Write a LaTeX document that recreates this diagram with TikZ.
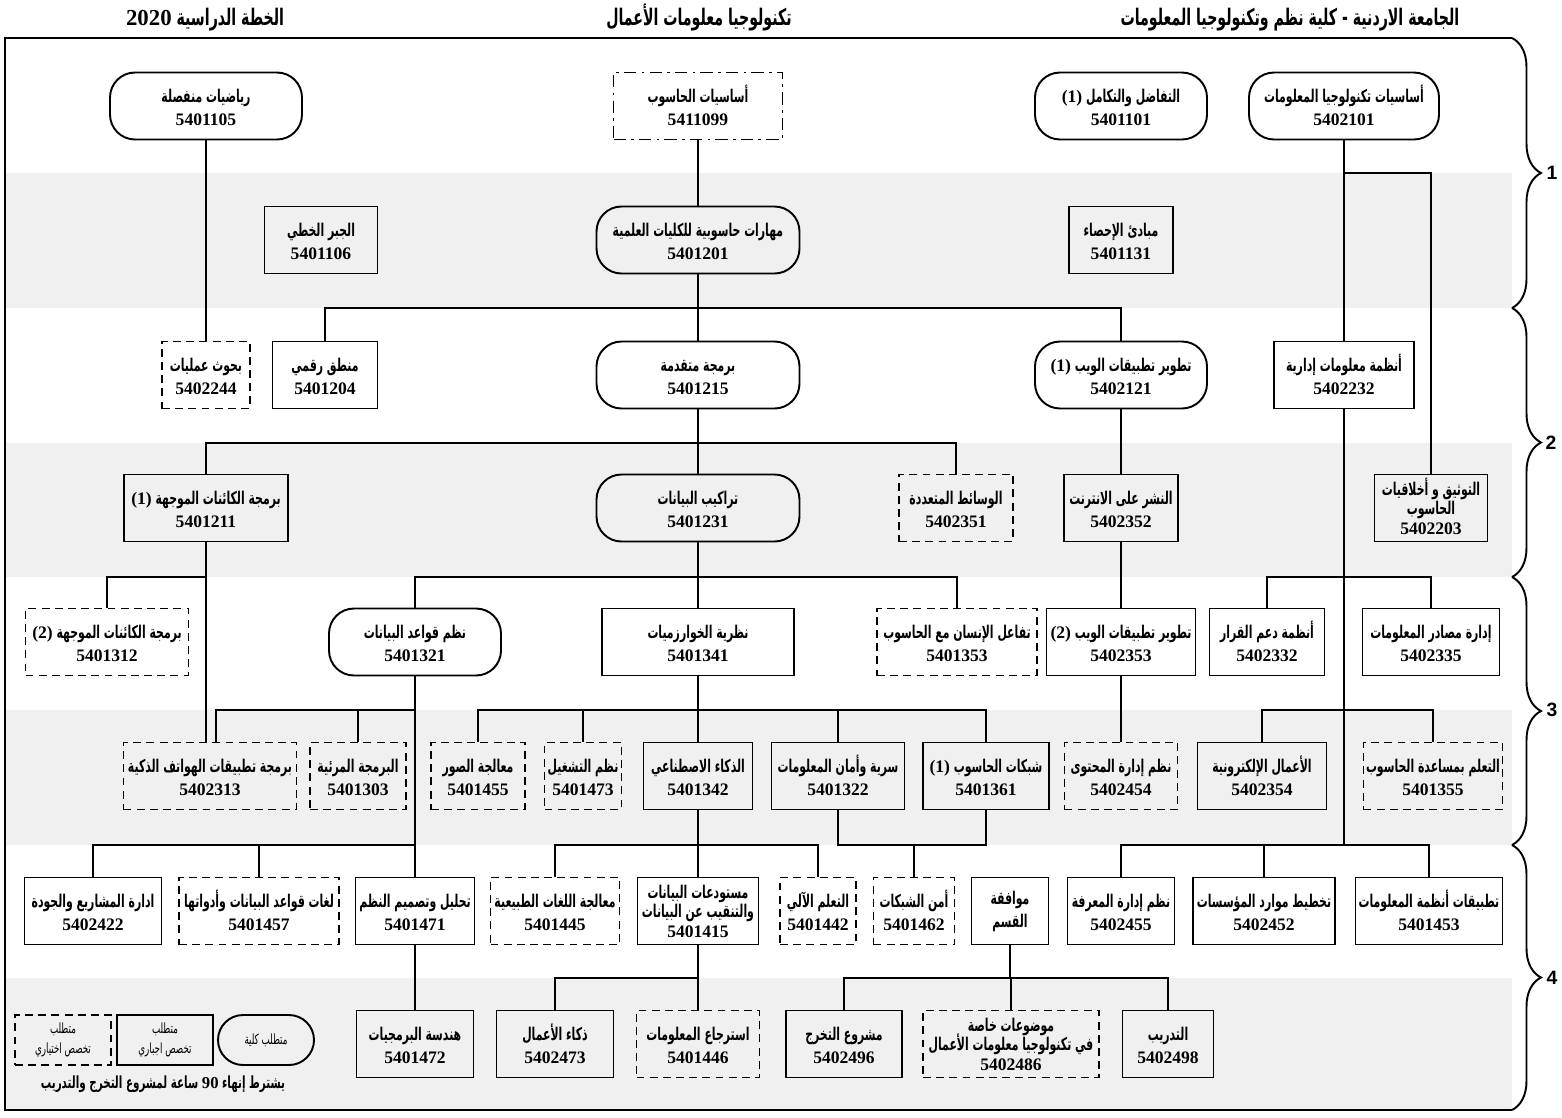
\documentclass[tikz,border=0pt]{standalone}
\usepackage{fontspec}
\setmainfont{Liberation Serif}
\setsansfont{Liberation Sans}
\newfontfamily\arabicfont[Script=Arabic,FakeStretch=0.62]{DejaVu Sans}
\TeXXeTstate=1
\usetikzlibrary{decorations.pathreplacing}

\newcommand\artxt[1]{{\arabicfont\bfseries\strut\smash{\beginR #1\endR}}}
\newcommand\arthin[1]{{\arabicfont\beginR #1\endR}}
\newcommand\ltr[1]{\beginL{\rmfamily #1}\endL{}}

\tikzset{
  crs/.style={draw, line width=1.1pt, align=center, inner sep=0pt,
    minimum height=1.34cm, font=\fontsize{10}{13}\selectfont\bfseries},
  crsround/.style={crs, rounded corners=0.5cm},
  crsdash/.style={crs, dash pattern=on 4.5pt off 3pt},
  crsdashdot/.style={crs, dash pattern=on 7pt off 3pt on 1.5pt off 3pt},
  threelines/.style={font=\fontsize{10}{11}\selectfont\bfseries},
  bw/.style={minimum width=#1*0.02cm},
  link/.style={line width=1.1pt},
  band/.style={fill=black!6},
  headline/.style={font=\fontsize{13}{15}\selectfont\bfseries},
}

\begin{document}
\begin{tikzpicture}[x=0.02cm, y=-0.02cm]
  \useasboundingbox (0,0) rectangle (1562,1117);

  % gray bands of the second semesters
  \fill[band] (5,173) rectangle (1512,308);
  \fill[band] (5,443) rectangle (1512,577);
  \fill[band] (5,710) rectangle (1512,845);
  \fill[band] (5,978) rectangle (1512,1110);

  % frame and year braces
  \draw[link] (1512,38) -- (5,38) -- (5,1110) -- (1512,1110);
  \draw[link, decorate, decoration={brace, amplitude=0.58cm}] (1512,38) -- (1512,308);
  \draw[link, decorate, decoration={brace, amplitude=0.58cm}] (1512,308) -- (1512,577);
  \draw[link, decorate, decoration={brace, amplitude=0.58cm}] (1512,577) -- (1512,845);
  \draw[link, decorate, decoration={brace, amplitude=0.58cm}] (1512,845) -- (1512,1110);
  \node[font=\sffamily\bfseries\fontsize{11}{13}\selectfont] (year1) at (1552,173) {1};
  \node[font=\sffamily\bfseries\fontsize{11}{13}\selectfont] (year2) at (1551,443) {2};
  \node[font=\sffamily\bfseries\fontsize{11}{13}\selectfont] (year3) at (1552,710) {3};
  \node[font=\sffamily\bfseries\fontsize{11}{13}\selectfont] (year4) at (1552,978) {4};

  % titles
  \node[headline] (titleuni) at (1290,20) {\artxt{الجامعة الاردنية - كلية نظم وتكنولوجيا المعلومات}};
  \node[headline] (titlemajor) at (699,20) {\artxt{تكنولوجيا معلومات الأعمال}};
  \node[headline] (titleplan) at (205,20) {\artxt{الخطة الدراسية \ltr{2020}}};

  % bus heights
  \coordinate (bus1) at (0,173);
  \coordinate (bus2) at (0,308);
  \coordinate (bus3) at (0,443);
  \coordinate (bus4) at (0,577);
  \coordinate (bus5) at (0,710);
  \coordinate (bus6) at (0,845);
  \coordinate (bus7) at (0,978);

  % year 1, first semester
  \node[crsround, bw=192] (c5401105) at (206,106) {\artxt{رياضيات منفصلة}\\5401105};
  \node[crsdashdot, bw=169] (c5411099) at (698,106) {\artxt{أساسيات الحاسوب}\\5411099};
  \node[crsround, bw=172] (c5401101) at (1121,106) {\artxt{التفاضل والتكامل \ltr{(1)}}\\5401101};
  \node[crsround, bw=190] (c5402101) at (1344,106) {\artxt{أساسيات تكنولوجيا المعلومات}\\5402101};

  % year 1, second semester
  \node[crs, bw=113] (c5401106) at (321,240) {\artxt{الجبر الخطي}\\5401106};
  \node[crsround, bw=203] (c5401201) at (698,240) {\artxt{مهارات حاسوبية للكليات العلمية}\\5401201};
  \node[crs, bw=104] (c5401131) at (1121,240) {\artxt{مبادئ الإحصاء}\\5401131};

  % year 2, first semester
  \node[crsdash, bw=88] (c5402244) at (206,375) {\artxt{بحوث عمليات}\\5402244};
  \node[crs, bw=105] (c5401204) at (325,375) {\artxt{منطق رقمي}\\5401204};
  \node[crsround, bw=203] (c5401215) at (698,375) {\artxt{برمجة متقدمة}\\5401215};
  \node[crsround, bw=172] (c5402121) at (1121,375) {\artxt{تطوير تطبيقات الويب \ltr{(1)}}\\5402121};
  \node[crs, bw=140] (c5402232) at (1344,375) {\artxt{أنظمة معلومات إدارية}\\5402232};

  % year 2, second semester
  \node[crs, bw=164] (c5401211) at (206,508) {\artxt{برمجة الكائنات الموجهة \ltr{(1)}}\\5401211};
  \node[crsround, bw=203] (c5401231) at (698,508) {\artxt{تراكيب البيانات}\\5401231};
  \node[crsdash, bw=114] (c5402351) at (956,508) {\artxt{الوسائط المتعددة}\\5402351};
  \node[crs, bw=114] (c5402352) at (1121,508) {\artxt{النشر على الانترنت}\\5402352};
  \node[crs, threelines, bw=113] (c5402203) at (1431,508) {\artxt{التوثيق و أخلاقيات}\\\artxt{الحاسوب}\\5402203};

  % year 3, first semester
  \node[crsdash, bw=163] (c5401312) at (107,642) {\artxt{برمجة الكائنات الموجهة \ltr{(2)}}\\5401312};
  \node[crsround, bw=172] (c5401321) at (415,642) {\artxt{نظم قواعد البيانات}\\5401321};
  \node[crs, bw=192] (c5401341) at (698,642) {\artxt{نظرية الخوارزميات}\\5401341};
  \node[crsdash, bw=160] (c5401353) at (957,642) {\artxt{تفاعل الإنسان مع الحاسوب}\\5401353};
  \node[crs, bw=149] (c5402353) at (1121,642) {\artxt{تطوير تطبيقات الويب \ltr{(2)}}\\5402353};
  \node[crs, bw=115] (c5402332) at (1267,642) {\artxt{أنظمة دعم القرار}\\5402332};
  \node[crs, bw=137] (c5402335) at (1431,642) {\artxt{إدارة مصادر المعلومات}\\5402335};

  % year 3, second semester
  \node[crsdash, bw=173] (c5402313) at (210,776) {\artxt{برمجة تطبيقات الهواتف الذكية}\\5402313};
  \node[crsdash, bw=96] (c5401303) at (358,776) {\artxt{البرمجة المرئية}\\5401303};
  \node[crsdash, bw=94] (c5401455) at (478,776) {\artxt{معالجة الصور}\\5401455};
  \node[crsdash, bw=77] (c5401473) at (583,776) {\artxt{نظم التشغيل}\\5401473};
  \node[crs, bw=109] (c5401342) at (698,776) {\artxt{الذكاء الاصطناعي}\\5401342};
  \node[crs, bw=133] (c5401322) at (838,776) {\artxt{سرية وأمان المعلومات}\\5401322};
  \node[crs, bw=126] (c5401361) at (986,776) {\artxt{شبكات الحاسوب \ltr{(1)}}\\5401361};
  \node[crsdash, bw=113] (c5402454) at (1121,776) {\artxt{نظم إدارة المحتوى}\\5402454};
  \node[crs, bw=129] (c5402354) at (1262,776) {\artxt{الأعمال الإلكترونية}\\5402354};
  \node[crsdash, bw=139] (c5401355) at (1433,776) {\artxt{التعلم بمساعدة الحاسوب}\\5401355};

  % year 4, first semester
  \node[crs, bw=137] (c5402422) at (93,911) {\artxt{ادارة المشاريع والجودة}\\5402422};
  \node[crsdash, bw=160] (c5401457) at (259,911) {\artxt{لغات قواعد البيانات وأدواتها}\\5401457};
  \node[crs, bw=119] (c5401471) at (415,911) {\artxt{تحليل وتصميم النظم}\\5401471};
  \node[crsdash, bw=129] (c5401445) at (555,911) {\artxt{معالجة اللغات الطبيعية}\\5401445};
  \node[crs, threelines, bw=121] (c5401415) at (698,911) {\artxt{مستودعات البيانات}\\\artxt{والتنقيب عن البيانات}\\5401415};
  \node[crsdash, bw=76] (c5401442) at (818,911) {\artxt{التعلم الآلي}\\5401442};
  \node[crsdash, bw=81] (c5401462) at (914,911) {\artxt{أمن الشبكات}\\5401462};
  \node[crs, bw=77] (cdept) at (1010,911) {\artxt{موافقة}\\\artxt{القسم}};
  \node[crs, bw=107] (c5402455) at (1121,911) {\artxt{نظم إدارة المعرفة}\\5402455};
  \node[crs, bw=142] (c5402452) at (1264,911) {\artxt{تخطيط موارد المؤسسات}\\5402452};
  \node[crs, bw=147] (c5401453) at (1429,911) {\artxt{تطبيقات أنظمة المعلومات}\\5401453};

  % year 4, second semester
  \node[crs, bw=117] (c5401472) at (415,1044) {\artxt{هندسة البرمجيات}\\5401472};
  \node[crs, bw=117] (c5402473) at (555,1044) {\artxt{ذكاء الأعمال}\\5402473};
  \node[crsdash, bw=123] (c5401446) at (698,1044) {\artxt{استرجاع المعلومات}\\5401446};
  \node[crs, bw=116] (c5402496) at (844,1044) {\artxt{مشروع التخرج}\\5402496};
  \node[crsdash, threelines, bw=176] (c5402486) at (1011,1044) {\artxt{موضوعات خاصة}\\\artxt{في تكنولوجيا معلومات الأعمال}\\5402486};
  \node[crs, bw=91] (c5402498) at (1168,1044) {\artxt{التدريب}\\5402498};

  % legend
  \node[crsdash, bw=96, minimum height=1cm, font=\fontsize{8}{11}\selectfont] (legopt) at (63,1040) {\arthin{متطلب}\\\arthin{تخصص اختياري}};
  \node[crs, bw=96, minimum height=1cm, font=\fontsize{8}{11}\selectfont] (legreq) at (165,1040) {\arthin{متطلب}\\\arthin{تخصص اجباري}};
  \node[crsround, bw=96, minimum height=1cm, font=\fontsize{8}{11}\selectfont] (legcol) at (266,1040) {\arthin{متطلب كلية}};
  \node[font=\fontsize{9.5}{11}\selectfont\bfseries] (note) at (163,1085) {\artxt{يشترط إنهاء \ltr{90} ساعة لمشروع التخرج والتدريب}};

  % prerequisite links
  \draw[link] (c5401105) -- (c5402244);
  \draw[link] (c5411099) -- (c5401201);
  \foreach \c in {c5401204,c5401215,c5402121}
    \draw[link] (c5401201.south) |- (bus2 -| \c) -- (\c.north);
  \foreach \c in {c5401211,c5401231,c5402351}
    \draw[link] (c5401215.south) |- (bus3 -| \c) -- (\c.north);
  \foreach \c in {c5401321,c5401341,c5401353}
    \draw[link] (c5401231.south) |- (bus4 -| \c) -- (\c.north);
  \foreach \c in {c5401455,c5401473,c5401342,c5401322,c5401361}
    \draw[link] (c5401341.south) |- (bus5 -| \c) -- (\c.north);
  \foreach \c in {c5401445,c5401415,c5401442}
    \draw[link] (c5401342.south) |- (bus6 -| \c) -- (\c.north);
  \foreach \c in {c5402473,c5401446}
    \draw[link] (c5401415.south) |- (bus7 -| \c) -- (\c.north);

  % object oriented and database branch
  \draw[link] (c5401211.south) |- (bus4 -| c5401312) -- (c5401312.north);
  \draw[link] (c5401211.south) -- (c5401211.south |- c5402313.north);
  \coordinate (in5402313) at ([xshift=0.12cm]c5402313.north);
  \draw[link] (c5401321.south) |- (bus5 -| in5402313) -- (in5402313);
  \draw[link] (c5401321.south) |- (bus5 -| c5401303) -- (c5401303.north);
  \foreach \c in {c5402422,c5401457,c5401471}
    \draw[link] (c5401321.south) |- (bus6 -| \c) -- (\c.north);
  \draw[link] (c5401471) -- (c5401472);

  % networks
  \draw[link] (c5401322.south) |- (bus6 -| c5401462) -- (c5401462.north);
  \draw[link] (c5401361.south) |- (bus6 -| c5401462);

  % web branch
  \draw[link] (c5402121) -- (c5402352);
  \draw[link] (c5402352) -- (c5402353);
  \draw[link] (c5402353) -- (c5402454);

  % information systems branch
  \draw[link] (c5402101) -- (c5402232);
  \draw[link] (c5402101.south) |- (bus1 -| c5402203) -- (c5402203.north);
  \foreach \b/\c in {bus4/c5402332,bus4/c5402335,bus5/c5402354,bus5/c5401355,bus6/c5402455,bus6/c5402452,bus6/c5401453}
    \draw[link] (c5402232.south) |- (\b -| \c) -- (\c.north);

  % department approval
  \foreach \c in {c5402496,c5402486,c5402498}
    \draw[link] (cdept.south) |- (bus7 -| \c) -- (\c.north);
\end{tikzpicture}
\end{document}
